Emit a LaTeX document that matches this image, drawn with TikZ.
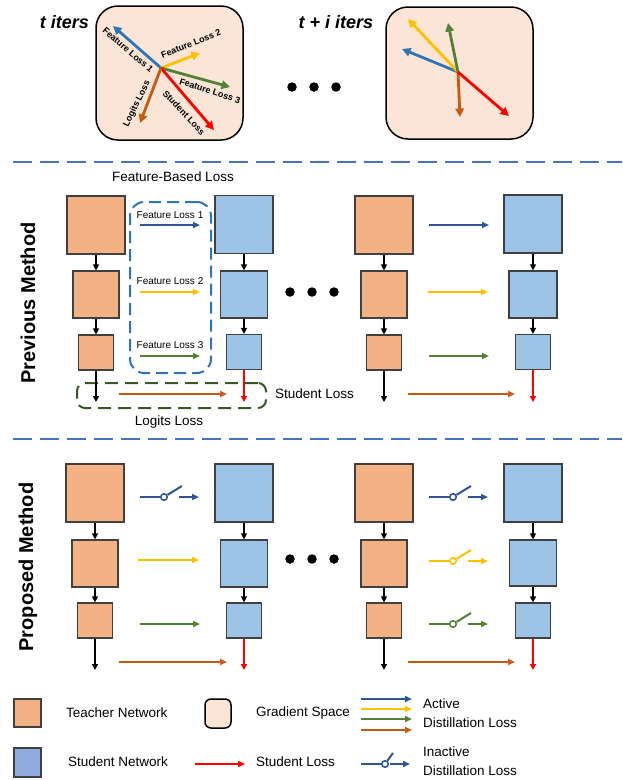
\documentclass[tikz,border=0pt]{standalone}
\usepackage{fontspec}
\setmainfont{Liberation Sans}
\usetikzlibrary{arrows.meta}
\definecolor{tfill}{HTML}{F4B183}
\definecolor{sfill}{HTML}{9DC3E6}
\definecolor{lsfill}{HTML}{8FAADC}
\definecolor{gfill}{HTML}{FBE5D6}
\definecolor{boxline}{HTML}{404040}
\definecolor{cblue}{HTML}{2F5597}
\definecolor{gblue}{HTML}{2E75B6}
\definecolor{cyellow}{HTML}{FFC000}
\definecolor{cgreen}{HTML}{548235}
\definecolor{cbrown}{HTML}{C55A11}
\definecolor{cred}{HTML}{FF0000}
\definecolor{sepblue}{HTML}{4472C4}
\definecolor{fbblue}{HTML}{2E75B6}
\definecolor{lgreen}{HTML}{385723}
\newcommand\myswitch[5]{% x0, y, color, name, lever length
  \coordinate (#4a) at (#1,#2);
  \node[circle, draw=#3, fill=white, line width=1.6pt, minimum size=6.5pt, inner sep=0pt] (#4o) at (#1+24,#2) {};
  \coordinate (#4l) at (#1+24+#5,#2-11);
  \coordinate (#4b) at (#1+21+#5,#2);
  \coordinate (#4e) at (#1+41+#5,#2);
  \draw[#3, line width=2pt] (#4a) -- (#4o);
  \draw[#3, line width=2pt] (#4o) -- (#4l);
  \draw[loss, #3] (#4b) -- (#4e);
}
\begin{document}
\begin{tikzpicture}[x=1pt,y=-1pt,
  box/.style={draw=boxline, line width=1.3pt, inner sep=0pt},
  teacher/.style={box, fill=tfill},
  student/.style={box, fill=sfill},
  chain/.style={line width=1.8pt, -{Triangle[length=6pt,width=6pt]}},
  loss/.style={line width=2pt, -{Triangle[length=7pt,width=6pt]}},
  gvec/.style={line width=2.8pt, -{Triangle[length=8.5pt,width=8.5pt]}},
  gbox/.style={draw=black, line width=1.5pt, fill=gfill, rounded corners=22pt, inner sep=0pt},
  bigdot/.style={circle, fill=black, minimum size=9.5pt, inner sep=0pt},
  sep/.style={line width=2.5pt, sepblue, dash pattern=on 19pt off 8pt},
  glabel/.style={font=\fontsize{9}{10}\selectfont\bfseries, inner sep=0pt},
  lab/.style={font=\fontsize{13.5}{15}\selectfont, inner sep=0pt},
  smalllab/.style={font=\fontsize{10}{11}\selectfont, inner sep=0pt},
  sect/.style={font=\fontsize{20}{22}\selectfont\bfseries, inner sep=0pt, rotate=90},
  iters/.style={font=\fontsize{18}{20}\selectfont\bfseries\itshape, inner sep=0pt},
]
\useasboundingbox (0,0) rectangle (622,780);

% ---------------- gradient spaces ----------------
\node[gbox, minimum width=147pt, minimum height=134pt] (gb1) at (169.5,73) {};
\node[gbox, minimum width=147pt, minimum height=132pt] (gb2) at (459.5,73) {};
\node[iters] (ti) at (64.5,22) {t iters};
\node[iters] (tii) at (336,22) {t + i iters};

\coordinate (g1) at (161,68);
\coordinate (g1a) at (113,26);
\coordinate (g1b) at (200,53);
\coordinate (g1c) at (230,87);
\coordinate (g1d) at (214,130);
\coordinate (g1e) at (140,123);
\draw[gvec, gblue] (g1) -- (g1a);
\draw[gvec, cyellow] (g1) -- (g1b);
\draw[gvec, cgreen] (g1) -- (g1c);
\draw[gvec, cred] (g1) -- (g1d);
\draw[gvec, cbrown] (g1) -- (g1e);
\node[glabel, rotate=-41] (lfl1) at (128,50) {Feature Loss 1};
\node[glabel, rotate=22] (lfl2) at (191,44) {Feature Loss 2};
\node[glabel, rotate=-18] (lfl3) at (210,91) {Feature Loss 3};
\node[glabel, rotate=-47] (lsl) at (184,113) {Student Loss};
\node[glabel, rotate=64] (lll) at (137,104) {Logits Loss};

\coordinate (g2) at (458,72);
\coordinate (g2a) at (402,49);
\coordinate (g2b) at (408,19);
\coordinate (g2c) at (448,23);
\coordinate (g2d) at (509,116);
\coordinate (g2e) at (460,117);
\draw[gvec, gblue] (g2) -- (g2a);
\draw[gvec, cyellow] (g2) -- (g2b);
\draw[gvec, cgreen] (g2) -- (g2c);
\draw[gvec, cbrown] (g2) -- (g2e);
\draw[gvec, cred] (g2) -- (g2d);

\node[bigdot] (d1) at (292,87) {};
\node[bigdot] (d2) at (314,87) {};
\node[bigdot] (d3) at (336,87) {};

% separators
\coordinate (s1a) at (13,162);
\coordinate (s1b) at (622,162);
\draw[sep] (s1a) -- (s1b);
\coordinate (s2a) at (13,439);
\coordinate (s2b) at (622,439);
\draw[sep] (s2a) -- (s2b);

% ---------------- previous method ----------------
\node[sect] (pm) at (28,303) {Previous Method};
\node[lab] (fbl) at (173,177) {Feature-Based Loss};

\node[draw=fbblue, line width=2pt, dash pattern=on 12pt off 6pt, rounded corners=14pt,
      minimum width=81pt, minimum height=171pt, inner sep=0pt] (fbbox) at (170.5,287.5) {};
\node[draw=lgreen, line width=2pt, dash pattern=on 13pt off 7pt, rounded corners=8pt,
      minimum width=189pt, minimum height=25pt, inner sep=0pt] (lgbox) at (171.5,395.5) {};

\node[teacher, minimum size=58pt] (pT1) at (96,225) {};
\node[teacher, minimum width=46pt, minimum height=47pt] (pT2) at (96,294.5) {};
\node[teacher, minimum size=35pt] (pT3) at (96,352.5) {};
\node[student, minimum size=58pt] (pS1) at (244,224.5) {};
\node[student, minimum width=47pt, minimum height=47pt] (pS2) at (244,294.5) {};
\node[student, minimum size=35pt] (pS3) at (244,352) {};
\coordinate (pTe) at (96,402);
\coordinate (pSe) at (244,402);
\draw[chain] (pT1.south) -- (pT2.north);
\draw[chain] (pT2.south) -- (pT3.north);
\draw[chain] (pT3.south) -- (pTe);
\draw[chain] (pS1.south) -- (pS2.north);
\draw[chain] (pS2.south) -- (pS3.north);
\draw[chain, cred] (pS3.south) -- (pSe);

\node[smalllab] (fl1) at (170,215) {Feature Loss 1};
\node[smalllab] (fl2) at (170,281) {Feature Loss 2};
\node[smalllab] (fl3) at (170,345) {Feature Loss 3};
\coordinate (pa1) at (140,225); \coordinate (pb1) at (200,225);
\coordinate (pa2) at (140,292); \coordinate (pb2) at (200,292);
\coordinate (pa3) at (140,356); \coordinate (pb3) at (200,356);
\coordinate (pa4) at (119,394); \coordinate (pb4) at (227,394);
\draw[loss, cblue] (pa1) -- (pb1);
\draw[loss, cyellow] (pa2) -- (pb2);
\draw[loss, cgreen] (pa3) -- (pb3);
\draw[loss, cbrown] (pa4) -- (pb4);
\node[lab, anchor=west] (stl) at (275,394) {Student Loss};
\node[lab] (lgl) at (169,422) {Logits Loss};

\node[bigdot] (d4) at (290,292) {};
\node[bigdot] (d5) at (312,292) {};
\node[bigdot] (d6) at (334,292) {};

\node[teacher, minimum size=58pt] (qT1) at (384,225) {};
\node[teacher, minimum width=46pt, minimum height=47pt] (qT2) at (384,294.5) {};
\node[teacher, minimum size=35pt] (qT3) at (384,352.5) {};
\node[student, minimum size=58pt] (qS1) at (533,224) {};
\node[student, minimum width=48pt, minimum height=47pt] (qS2) at (533,294.5) {};
\node[student, minimum size=35pt] (qS3) at (533,352) {};
\coordinate (qTe) at (384,402);
\coordinate (qSe) at (533,402);
\draw[chain] (qT1.south) -- (qT2.north);
\draw[chain] (qT2.south) -- (qT3.north);
\draw[chain] (qT3.south) -- (qTe);
\draw[chain] (qS1.south) -- (qS2.north);
\draw[chain] (qS2.south) -- (qS3.north);
\draw[chain, cred] (qS3.south) -- (qSe);
\coordinate (qa1) at (429,225); \coordinate (qb1) at (489,225);
\coordinate (qa2) at (428,292); \coordinate (qb2) at (488,292);
\coordinate (qa3) at (429,356); \coordinate (qb3) at (489,356);
\coordinate (qa4) at (408,394); \coordinate (qb4) at (515,394);
\draw[loss, cblue] (qa1) -- (qb1);
\draw[loss, cyellow] (qa2) -- (qb2);
\draw[loss, cgreen] (qa3) -- (qb3);
\draw[loss, cbrown] (qa4) -- (qb4);

% ---------------- proposed method ----------------
\node[sect] (prm) at (28,567) {Proposed Method};

\node[teacher, minimum size=58pt] (rT1) at (95,493) {};
\node[teacher, minimum width=46pt, minimum height=47pt] (rT2) at (95,563.5) {};
\node[teacher, minimum size=35pt] (rT3) at (95,620.5) {};
\node[student, minimum size=58pt] (rS1) at (244,493) {};
\node[student, minimum width=47pt, minimum height=47pt] (rS2) at (244,563.5) {};
\node[student, minimum size=35pt] (rS3) at (244,620.5) {};
\coordinate (rTe) at (95,670);
\coordinate (rSe) at (244,670);
\draw[chain] (rT1.south) -- (rT2.north);
\draw[chain] (rT2.south) -- (rT3.north);
\draw[chain] (rT3.south) -- (rTe);
\draw[chain] (rS1.south) -- (rS2.north);
\draw[chain] (rS2.south) -- (rS3.north);
\draw[chain, cred] (rS3.south) -- (rSe);
\myswitch{140}{497}{cblue}{rsw1}{18}
\coordinate (ra2) at (138,560); \coordinate (rb2) at (199,560);
\coordinate (ra3) at (140,624); \coordinate (rb3) at (200,624);
\coordinate (ra4) at (119,662); \coordinate (rb4) at (227,662);
\draw[loss, cyellow] (ra2) -- (rb2);
\draw[loss, cgreen] (ra3) -- (rb3);
\draw[loss, cbrown] (ra4) -- (rb4);

\node[bigdot] (d7) at (290,559) {};
\node[bigdot] (d8) at (312,559) {};
\node[bigdot] (d9) at (334,559) {};

\node[teacher, minimum size=58pt] (sT1) at (384,493) {};
\node[teacher, minimum width=46pt, minimum height=47pt] (sT2) at (384,563.5) {};
\node[teacher, minimum size=35pt] (sT3) at (384,620.5) {};
\node[student, minimum size=58pt] (sS1) at (533,493) {};
\node[student, minimum width=47pt, minimum height=46pt] (sS2) at (533,563) {};
\node[student, minimum size=35pt] (sS3) at (533,620.5) {};
\coordinate (sTe) at (384,670);
\coordinate (sSe) at (533,670);
\draw[chain] (sT1.south) -- (sT2.north);
\draw[chain] (sT2.south) -- (sT3.north);
\draw[chain] (sT3.south) -- (sTe);
\draw[chain] (sS1.south) -- (sS2.north);
\draw[chain] (sS2.south) -- (sS3.north);
\draw[chain, cred] (sS3.south) -- (sSe);
\myswitch{429}{497}{cblue}{ssw1}{18}
\myswitch{429}{561}{cyellow}{ssw2}{18}
\myswitch{429}{624}{cgreen}{ssw3}{18}
\coordinate (sa4) at (408,662); \coordinate (sb4) at (515,662);
\draw[loss, cbrown] (sa4) -- (sb4);

% ---------------- legend ----------------
\node[box, fill=tfill, minimum width=27pt, minimum height=28pt] (lt) at (27.5,713) {};
\node[lab, anchor=west] (ltl) at (66,713) {Teacher Network};
\node[box, fill=lsfill, minimum width=27pt, minimum height=29pt] (ls) at (27.5,762.5) {};
\node[lab, anchor=west] (lsl2) at (68,762) {Student Network};
\node[draw=black, line width=1.5pt, fill=gfill, rounded corners=6pt, minimum width=26pt, minimum height=29pt, inner sep=0pt] (lg) at (218,713.5) {};
\node[lab, anchor=west] (lgl2) at (256,713) {Gradient Space};
\coordinate (lra) at (195,764); \coordinate (lrb) at (245,764);
\draw[loss, cred] (lra) -- (lrb);
\node[lab, anchor=west] (lrl) at (256,762) {Student Loss};
\coordinate (la1) at (361,699); \coordinate (lb1) at (412,699);
\coordinate (la2) at (361,709); \coordinate (lb2) at (412,709);
\coordinate (la3) at (361,719); \coordinate (lb3) at (412,719);
\coordinate (la4) at (361,730); \coordinate (lb4) at (412,730);
\draw[loss, cblue] (la1) -- (lb1);
\draw[loss, cyellow] (la2) -- (lb2);
\draw[loss, cgreen] (la3) -- (lb3);
\draw[loss, cbrown] (la4) -- (lb4);
\node[lab, anchor=west] (lact1) at (423,704) {Active};
\node[lab, anchor=west] (lact2) at (423,723) {Distillation Loss};
\myswitch{361}{764}{cblue}{lsw}{8}
\node[lab, anchor=west] (lin1) at (423,752) {Inactive};
\node[lab, anchor=west] (lin2) at (423,771) {Distillation Loss};
\end{tikzpicture}
\end{document}
